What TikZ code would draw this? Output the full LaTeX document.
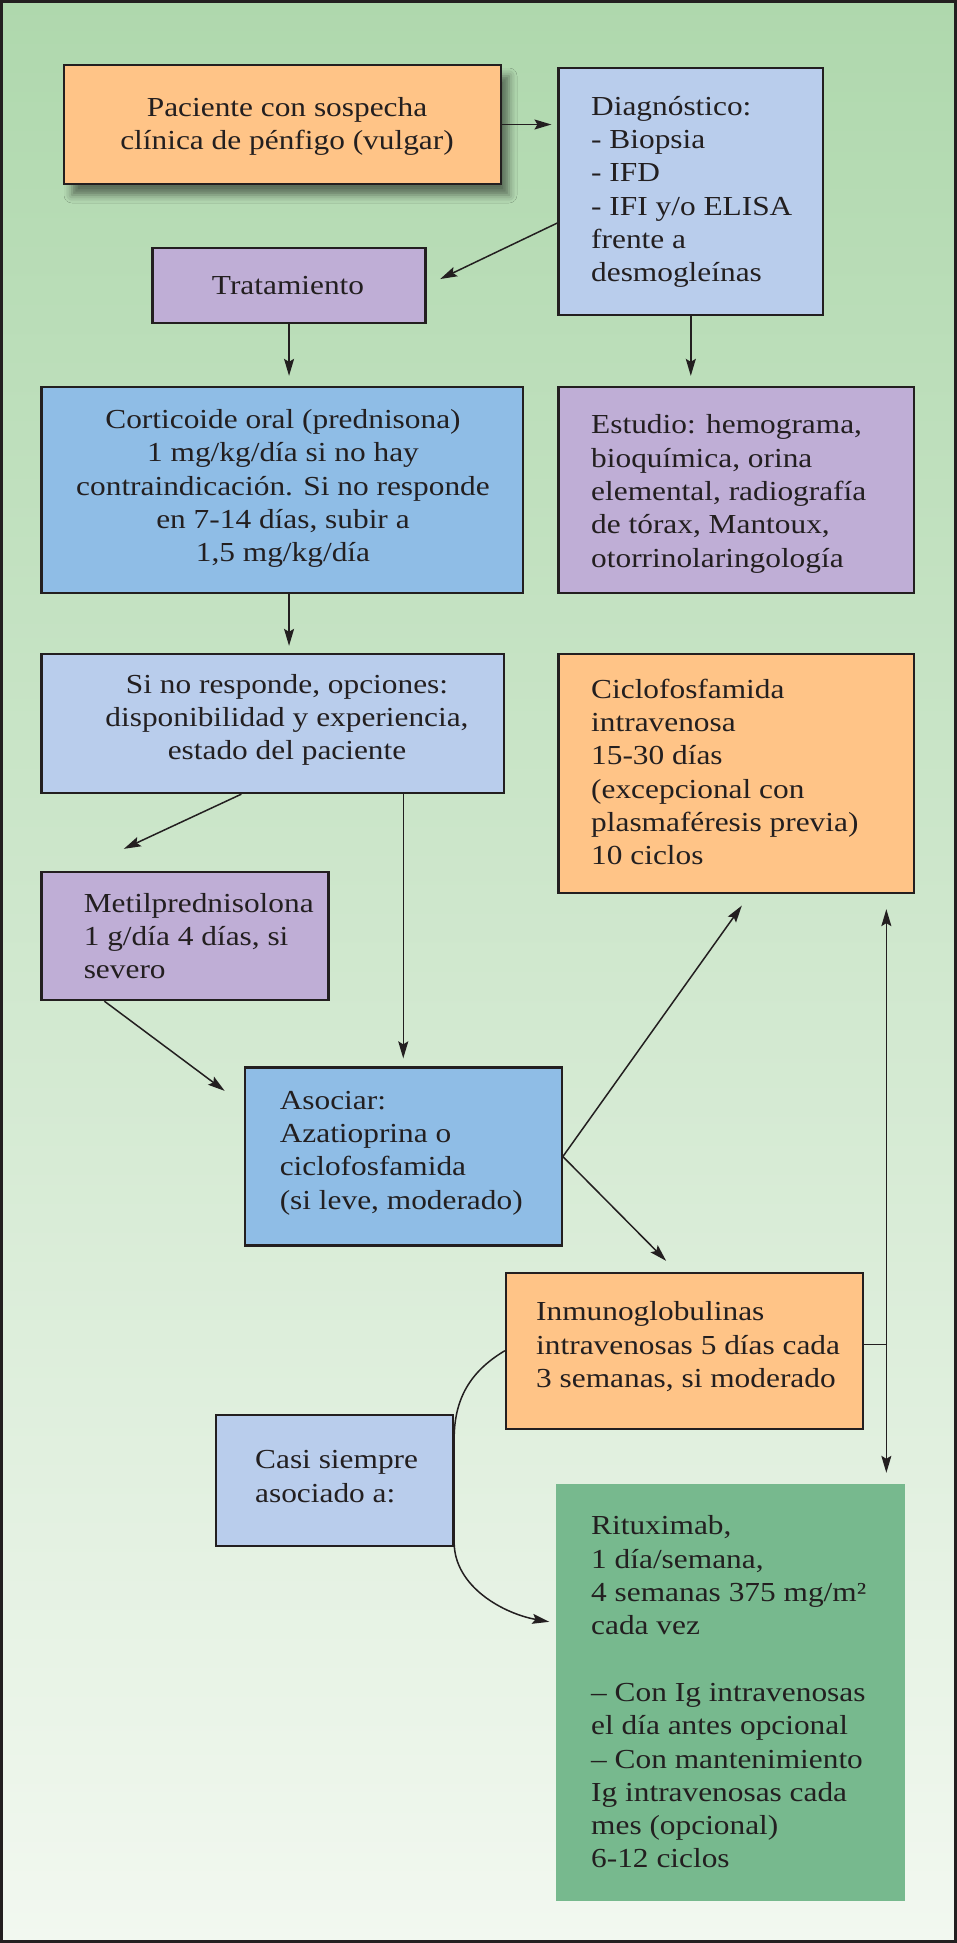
\documentclass[tikz,border=0pt]{standalone}
\usepackage{fontspec}
\setmainfont{Liberation Serif}[FakeStretch=1.14]
\usetikzlibrary{arrows.meta,calc,fit,shadows.blur}
\definecolor{corange}{RGB}{255,196,135}
\definecolor{clblue}{RGB}{185,205,236}
\definecolor{cblue}{RGB}{143,189,230}
\definecolor{cpurple}{RGB}{191,174,214}
\definecolor{cgreen}{RGB}{119,185,142}
\definecolor{bgtop}{RGB}{175,216,173}
\definecolor{bgbot}{RGB}{242,248,240}
\definecolor{linecol}{RGB}{35,31,32}
\begin{document}
\begin{tikzpicture}[x=1pt,y=-1pt,
  box/.style={draw=linecol, line width=2.3pt, inner sep=0pt},
  txt/.style={font={\fontsize{27.5}{33.3}\selectfont}, text=linecol, inner sep=0pt},
  arr/.style={draw=linecol, line width=1.5pt, -{Stealth[length=17pt,width=10pt,inset=3pt]}},
  plainline/.style={draw=linecol, line width=1.5pt}
]
\useasboundingbox (0,0) rectangle (957,1943);
\shade[top color=bgtop, bottom color=bgbot] (0,0) rectangle (957,1943);
\draw[line width=3pt, linecol] (1.5,1.5) rectangle (955.5,1941.5);

% boxes
\node[box, fill=corange, blur shadow={shadow xshift=8pt, shadow yshift=-11pt, shadow blur radius=8pt, shadow opacity=50}, fit={(64,65) (501,184)}] (pac) {};
\node[box, fill=clblue, fit={(558.6,67.7) (823,315)}] (diag) {};
\node[box, fill=cpurple, fit={(152.6,248) (425.5,323)}] (trat) {};
\node[box, fill=cblue, fit={(41.5,387) (523,593)}] (cort) {};
\node[box, fill=cpurple, fit={(558.6,387) (914,593)}] (est) {};
\node[box, fill=clblue, fit={(41.5,654) (503.7,793)}] (sino) {};
\node[box, fill=corange, fit={(558.6,654) (914,893)}] (cicl) {};
\node[box, fill=cpurple, fit={(41.5,872) (328.5,1000)}] (metil) {};
\node[box, fill=cblue, fit={(244.8,1067.5) (561.7,1245.6)}] (asoc) {};
\node[box, fill=corange, fit={(506,1272.7) (863.2,1428.7)}] (inmu) {};
\node[box, fill=clblue, fit={(216,1415) (453,1546)}] (casi) {};
\node[fill=cgreen, inner sep=0pt, fit={(556,1484) (905.4,1901)}] (rit) {};

% texts
\node[txt, align=center] (pact) at (287,126.5) {Paciente con sospecha\\clínica de pénfigo (vulgar)};
\node[txt, align=left, anchor=west] (diagt) at (591,192) {Diagnóstico:\\- Biopsia\\- IFD\\- IFI y/o ELISA\\frente a\\desmogleínas};
\node[txt] (tratt) at (288,286) {Tratamiento};
\node[txt, align=center] (cortt) at (283,488.5) {Corticoide oral (prednisona)\\1 mg/kg/día si no hay\\contraindicación. Si no responde\\en 7-14 días, subir a\\1,5 mg/kg/día};
\node[txt, align=left, anchor=west] (estt) at (591,494) {Estudio: hemograma,\\bioquímica, orina\\elemental, radiografía\\de tórax, Mantoux,\\otorrinolaringología};
\node[txt, align=center] (sinot) at (287,720) {Si no responde, opciones:\\disponibilidad y experiencia,\\estado del paciente};
\node[txt, align=left, anchor=west] (miclt) at (591,772) {Ciclofosfamida\\intravenosa\\15-30 días\\(excepcional con\\plasmaféresis previa)\\10 ciclos};
\node[txt, align=left, anchor=west] (metilt) at (83.6,936) {Metilprednisolona\\1 g/día 4 días, si\\severo};
\node[txt, align=left, anchor=west] (asoct) at (279.6,1153) {Asociar:\\Azatioprina o\\ciclofosfamida\\(si leve, moderado)};
\node[txt, align=left, anchor=west] (inmut) at (536,1346.6) {Inmunoglobulinas\\intravenosas 5 días cada\\3 semanas, si moderado};
\node[txt, align=left, anchor=west] (casit) at (255,1476.5) {Casi siempre\\asociado a:};
\node[txt, align=left, anchor=west] (ritt) at (591,1692) {Rituximab,\\1 día/semana,\\4 semanas 375 mg/m²\\cada vez\\[33.3pt]– Con Ig intravenosas\\el día antes opcional\\– Con mantenimiento\\Ig intravenosas cada\\mes (opcional)\\6-12 ciclos};

% connectors
\draw[arr, shorten >=6pt] (pac.east) -- (pac.east -| diag.west);
\draw[arr, shorten >=15pt] ($(diag.west)+(0,31.6)$) -- (trat.east);
\draw[arr, shorten >=10pt] (trat.south) -- (trat.south |- cort.north);
\draw[arr, shorten >=10pt] (diag.south) -- (diag.south |- est.north);
\draw[arr, shorten >=7pt] (cort.south -| trat.south) -- (sino.north -| trat.south);
\draw[arr] ($(sino.south west)+(201,0)$) -- ($(metil.north west)+(83.5,-22)$);
\draw[arr, shorten >=8pt] (sino.south -| asoc.north) -- (asoc.north);
\draw[arr] ($(metil.south west)+(64,0)$) -- ($(asoc.north west)+(-19,24.5)$);
\draw[arr] (asoc.east) -- ($(cicl.south)+(5.5,11.5)$);
\draw[arr] (asoc.east) -- ($(inmu.north west)+(161.3,-10.7)$);
\coordinate (j) at ($(inmu.east)+(22,-6)$);
\draw[plainline] ($(inmu.east)+(0,-6)$) -- (j);
\draw[arr, shorten >=15pt] (j) -- (j |- cicl.south);
\draw[arr, shorten >=11pt] (j) -- (j |- rit.north);
\coordinate (ritin) at ($(rit.north west)+(-6.5,138)$);
\draw[arr] (inmu.west) .. controls ($(inmu.west)+(-30,18)$) and ($(casi.north east)+(0,-20)$) .. ($(casi.north east)+(0,25)$) -- ($(casi.south east)+(0,-5)$) .. controls ($(casi.south east)+(0,40)$) and ($(ritin)+(-45,-8)$) .. (ritin);
\end{tikzpicture}
\end{document}
